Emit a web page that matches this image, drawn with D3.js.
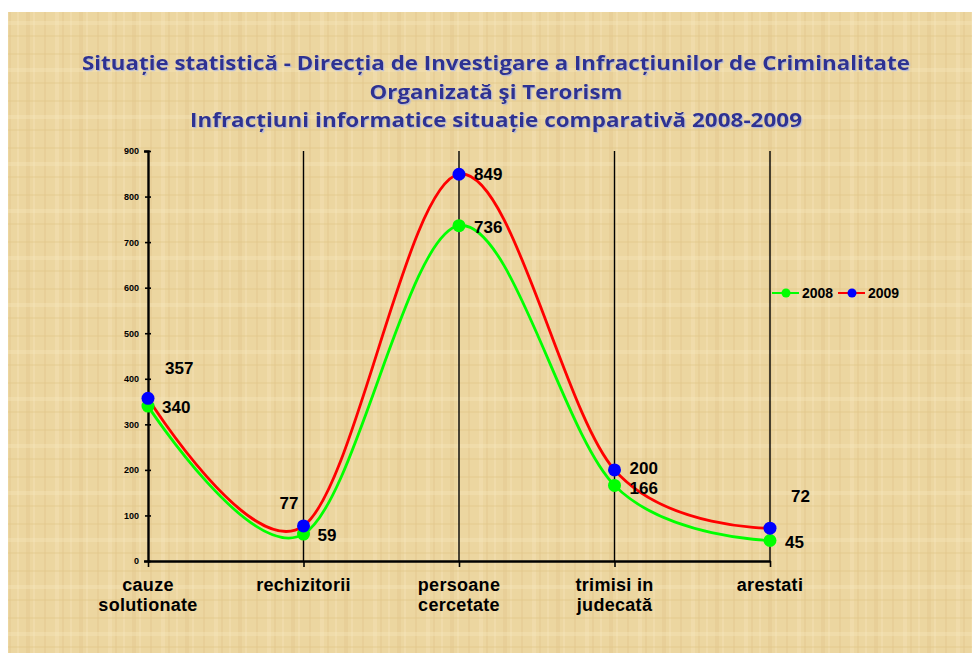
<!DOCTYPE html>
<html>
<head>
<meta charset="utf-8">
<script src="https://cdn.jsdelivr.net/npm/d3@7"></script>
<style>
  body { margin: 0; background: #fff; }
  svg { display: block; }
</style>
</head>
<body>
<div id="chart"></div>
<script>
const width = 972;
const height = 653;

// data
const categories = [["cauze", "solutionate"], ["rechizitorii"], ["persoane", "cercetate"], ["trimisi in", "judecată"], ["arestati"]];
const values2008 = [340, 59, 736, 166, 45];
const values2009 = [357, 77, 849, 200, 72];
const seriesNames = ["2008", "2009"];
const yTicks = [0, 100, 200, 300, 400, 500, 600, 700, 800, 900];
const titleLines = [
  "Situație statistică - Direcția de Investigare a Infracțiunilor de Criminalitate",
  "Organizată şi Terorism",
  "Infracțiuni informatice situație comparativă 2008-2009"
];

// label placement per point [dx, dy, anchor]
const labelPos2008 = [[14, 7, "start"], [14, 7, "start"], [15, 7, "start"], [15, 9, "start"], [15, 7, "start"]];
const labelPos2009 = [[17, -24, "start"], [-5, -17, "end"], [15, 6, "start"], [15, 4, "start"], [21, -26, "start"]];

const svg = d3.select("#chart")
  .append("svg")
  .attr("width", width)
  .attr("height", height);

// parchment-ish background
const defs = svg.append("defs");
const pat = defs.append("pattern")
  .attr("id", "paper")
  .attr("width", 53).attr("height", 47)
  .attr("patternUnits", "userSpaceOnUse");
pat.append("rect").attr("width", 53).attr("height", 47).attr("fill", "#ecd6a0");
[2, 9, 17, 26, 33, 44].forEach((x, i) => {
  pat.append("rect").attr("x", x).attr("y", 0).attr("width", i % 3 ? 2 : 4).attr("height", 47)
    .attr("fill", i % 2 ? "#e2c68b" : "#f4e4b8").attr("opacity", 0.4);
});
[6, 21, 35].forEach((y, i) => {
  pat.append("rect").attr("x", 0).attr("y", y).attr("width", 53).attr("height", i === 1 ? 4 : 2)
    .attr("fill", i % 2 ? "#f5e6bd" : "#e0c487").attr("opacity", 0.35);
});
const shadow = defs.append("filter").attr("id", "tshadow").attr("x", "-5%").attr("y", "-20%").attr("width", "110%").attr("height", "150%");
shadow.append("feDropShadow").attr("dx", 1.2).attr("dy", 1.2).attr("stdDeviation", 0.5)
  .attr("flood-color", "#a9b3e3").attr("flood-opacity", 0.8);

svg.append("rect")
  .attr("x", 8).attr("y", 12)
  .attr("width", width - 8).attr("height", height - 12)
  .attr("fill", "url(#paper)");

// title
const titleWidths = [828, 253, 612];
svg.append("g")
  .selectAll("text")
  .data(titleLines)
  .enter()
  .append("text")
  .attr("x", 496)
  .attr("y", (d, i) => 70 + i * 28.5)
  .attr("text-anchor", "middle")
  .attr("textLength", (d, i) => titleWidths[i])
  .attr("lengthAdjust", "spacingAndGlyphs")
  .attr("fill", "#2e3192")
  .attr("filter", "url(#tshadow)")
  .style("font-family", "'Open Sans', sans-serif")
  .style("font-weight", "bold")
  .style("font-size", "19px")
  .text(d => d);

// scales
const xScale = d3.scalePoint()
  .domain(d3.range(categories.length))
  .range([148, 770]);

const yScale = d3.scaleLinear()
  .domain([0, 900])
  .range([561, 151]);

// vertical category lines
svg.append("g")
  .selectAll("line")
  .data(d3.range(1, categories.length))
  .enter()
  .append("line")
  .attr("x1", d => xScale(d)).attr("x2", d => xScale(d))
  .attr("y1", yScale(0)).attr("y2", yScale(900))
  .attr("stroke", "#000")
  .attr("stroke-width", 1.4);

// y axis
const yAxis = d3.axisLeft(yScale).tickValues(yTicks).tickSize(4).tickPadding(5);
const gy = svg.append("g")
  .attr("transform", "translate(148,0)")
  .call(yAxis);
gy.select(".domain").attr("stroke-width", 2.4);
gy.selectAll(".tick line").attr("stroke-width", 1.6).attr("x2", 3).attr("x1", -3);
gy.selectAll(".tick text")
  .style("font-family", "Arial, 'Liberation Sans', sans-serif")
  .style("font-weight", "bold")
  .style("font-size", "9px")
  .attr("fill", "#000");

// x axis
const xAxis = d3.axisBottom(xScale).tickSize(6).tickFormat("").tickSizeOuter(0);
const gx = svg.append("g")
  .attr("transform", "translate(0," + yScale(0) + ")")
  .call(xAxis);
gx.select(".domain").attr("stroke-width", 2.4);
gx.selectAll(".tick line").attr("stroke-width", 1.6);

// category labels
const catText = svg.append("g")
  .selectAll("text")
  .data(categories)
  .enter()
  .append("text")
  .attr("x", (d, i) => xScale(i))
  .attr("y", 591)
  .attr("text-anchor", "middle")
  .attr("fill", "#000")
  .style("font-family", "Arial, 'Liberation Sans', sans-serif")
  .style("font-weight", "bold")
  .style("font-size", "18px")
  .style("letter-spacing", "0.3px");
catText.selectAll("tspan")
  .data(d => d)
  .enter()
  .append("tspan")
  .attr("x", function () { return d3.select(this.parentNode).attr("x"); })
  .attr("dy", (d, i) => i === 0 ? 0 : 20)
  .text(d => d);

// lines
const line = d3.line()
  .x((d, i) => xScale(i))
  .y(d => yScale(d))
  .curve(d3.curveCardinal.tension(0));

const series = [
  { name: seriesNames[0], values: values2008, stroke: "#00ff00", dot: "#00ff00", pos: labelPos2008 },
  { name: seriesNames[1], values: values2009, stroke: "#ff0000", dot: "#0000ff", pos: labelPos2009 }
];

series.forEach(s => {
  svg.append("path")
    .datum(s.values)
    .attr("fill", "none")
    .attr("stroke", s.stroke)
    .attr("stroke-width", 2.8)
    .attr("d", line);
});

series.forEach(s => {
  svg.append("g")
    .selectAll("circle")
    .data(s.values)
    .enter()
    .append("circle")
    .attr("cx", (d, i) => xScale(i))
    .attr("cy", d => yScale(d))
    .attr("r", 6.5)
    .attr("fill", s.dot);

  svg.append("g")
    .selectAll("text")
    .data(s.values)
    .enter()
    .append("text")
    .attr("x", (d, i) => xScale(i) + s.pos[i][0])
    .attr("y", (d, i) => yScale(d) + s.pos[i][1])
    .attr("text-anchor", (d, i) => s.pos[i][2])
    .attr("fill", "#000")
    .style("font-family", "Arial, 'Liberation Sans', sans-serif")
    .style("font-weight", "bold")
    .style("font-size", "17px")
    .text(d => d);
});

// legend
const legend = svg.append("g")
  .selectAll("g")
  .data(series)
  .enter()
  .append("g")
  .attr("transform", (d, i) => "translate(" + (772 + i * 66) + ",293)");
legend.append("line")
  .attr("x1", 0).attr("x2", 27)
  .attr("stroke", d => d.stroke)
  .attr("stroke-width", 2);
legend.append("circle")
  .attr("cx", 14).attr("r", 4.5)
  .attr("fill", d => d.dot);
legend.append("text")
  .attr("x", 30).attr("y", 5)
  .attr("fill", "#000")
  .style("font-family", "Arial, 'Liberation Sans', sans-serif")
  .style("font-weight", "bold")
  .style("font-size", "14px")
  .text(d => d.name);
</script>
</body>
</html>
